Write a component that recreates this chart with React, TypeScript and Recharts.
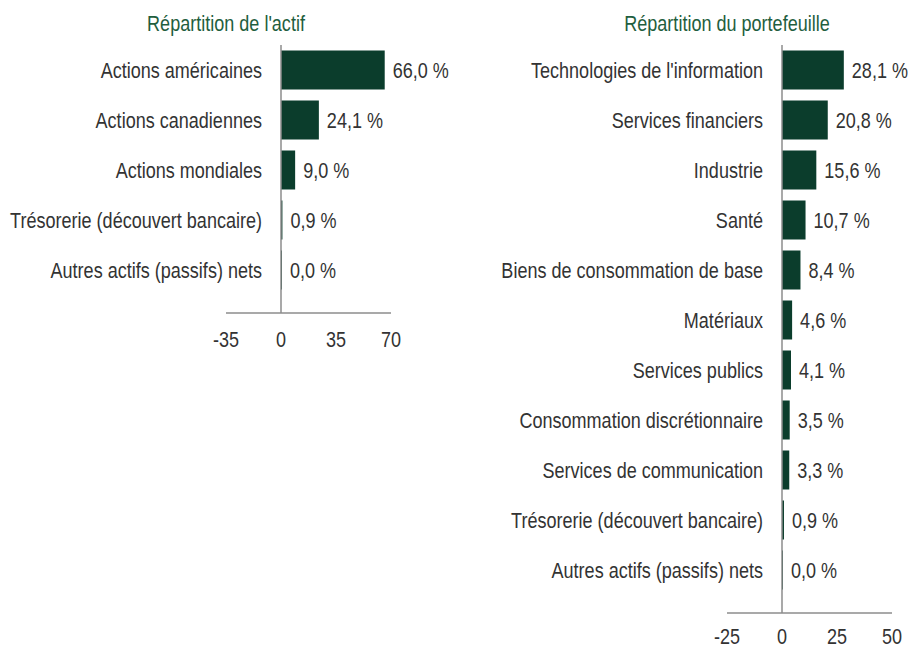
import React from "react";
import { BarChart, Bar, XAxis, YAxis, ReferenceLine, LabelList } from "recharts";

const assetCategories = [
  "Actions américaines",
  "Actions canadiennes",
  "Actions mondiales",
  "Trésorerie (découvert bancaire)",
  "Autres actifs (passifs) nets",
];
const assetValues = [66.0, 24.1, 9.0, 0.9, 0.0];
const assetTicks = [-35, 0, 35, 70];

const sectorCategories = [
  "Technologies de l'information",
  "Services financiers",
  "Industrie",
  "Santé",
  "Biens de consommation de base",
  "Matériaux",
  "Services publics",
  "Consommation discrétionnaire",
  "Services de communication",
  "Trésorerie (découvert bancaire)",
  "Autres actifs (passifs) nets",
];
const sectorValues = [28.1, 20.8, 15.6, 10.7, 8.4, 4.6, 4.1, 3.5, 3.3, 0.9, 0.0];
const sectorTicks = [-25, 0, 25, 50];

const FONT = "'Liberation Sans', Arial, sans-serif";
const FS = 22;
const SX = 0.82;
const TEXT = "#333333";
const BAR = "#0b3d2c";
const TITLE = "#1f5e3e";
const AXIS = "#8c8c8c";

const fmt = (v: any) => Number(v).toFixed(1).replace(".", ",") + " %";

function NarrowText(props: { x: number; y: number; anchor: string; dy: string; fill: string; children: any }) {
  return (
    <text
      transform={`translate(${props.x},${props.y}) scale(${SX},1)`}
      x={0}
      y={0}
      dy={props.dy}
      textAnchor={props.anchor as any}
      fill={props.fill}
      fontFamily={FONT}
      fontSize={FS}
    >
      {props.children}
    </text>
  );
}

const CatTick = (props: any) => {
  const { x, y, payload } = props;
  return (
    <NarrowText x={x + 36} y={y} anchor="end" dy="0.35em" fill={TEXT}>
      {payload.value}
    </NarrowText>
  );
};

const NumTick = (props: any) => {
  const { x, y, payload } = props;
  return (
    <NarrowText x={x} y={y} anchor="middle" dy="0.71em" fill={TEXT}>
      {payload.value}
    </NarrowText>
  );
};

const ValueLabel = (props: any) => {
  const vb = props.viewBox || props;
  const x = Number(vb.x) + Math.max(0, Number(vb.width)) + 8;
  const y = Number(vb.y) + Number(vb.height) / 2;
  return (
    <NarrowText x={x} y={y} anchor="start" dy="0.35em" fill={TEXT}>
      {fmt(props.value)}
    </NarrowText>
  );
};

function Panel(props: {
  cats: string[];
  vals: number[];
  ticks: number[];
  width: number;
  height: number;
  marginLeft: number;
  marginRight: number;
  marginBottom: number;
  tickMargin: number;
}) {
  const data = props.cats.map((c, i) => ({ name: c, value: props.vals[i] }));
  return (
    <BarChart
      width={props.width}
      height={props.height}
      data={data}
      layout="vertical"
      margin={{ top: 45, right: props.marginRight, bottom: props.marginBottom, left: props.marginLeft }}
      barCategoryGap="11%"
    >
      <XAxis
        type="number"
        domain={[props.ticks[0], props.ticks[props.ticks.length - 1]]}
        ticks={props.ticks}
        interval={0}
        axisLine={{ stroke: AXIS, strokeWidth: 1.5 }}
        tickLine={false}
        tickSize={0}
        tickMargin={props.tickMargin}
        height={30}
        tick={<NumTick />}
      />
      <YAxis
        type="category"
        dataKey="name"
        width={1}
        axisLine={false}
        tickLine={false}
        tickSize={0}
        tickMargin={0}
        interval={0}
        padding={{ top: 0, bottom: 18 }}
        tick={<CatTick />}
      />
      <ReferenceLine x={0} stroke={AXIS} strokeWidth={1.5} />
      <Bar dataKey="value" fill={BAR} minPointSize={1} isAnimationActive={false}>
        <LabelList dataKey="value" content={<ValueLabel />} />
      </Bar>
    </BarChart>
  );
}

export default function App() {
  return (
    <div style={{ position: "absolute", left: 0, top: 0, width: 912, height: 648, background: "#fff" }}>
      <div style={{ position: "absolute", left: 0, top: 0 }}>
        <Panel
          cats={assetCategories}
          vals={assetValues}
          ticks={assetTicks}
          width={456}
          height={360}
          marginLeft={225}
          marginRight={65}
          marginBottom={17}
          tickMargin={18}
        />
      </div>
      <div style={{ position: "absolute", left: 456, top: 0 }}>
        <Panel
          cats={sectorCategories}
          vals={sectorValues}
          ticks={sectorTicks}
          width={456}
          height={648}
          marginLeft={270}
          marginRight={20}
          marginBottom={5}
          tickMargin={15}
        />
      </div>
      <svg
        width={912}
        height={40}
        style={{ position: "absolute", left: 0, top: 0, pointerEvents: "none" }}
      >
        <NarrowText x={226} y={31} anchor="middle" dy="0" fill={TITLE}>
          Répartition de l'actif
        </NarrowText>
        <NarrowText x={727} y={31} anchor="middle" dy="0" fill={TITLE}>
          Répartition du portefeuille
        </NarrowText>
      </svg>
    </div>
  );
}
